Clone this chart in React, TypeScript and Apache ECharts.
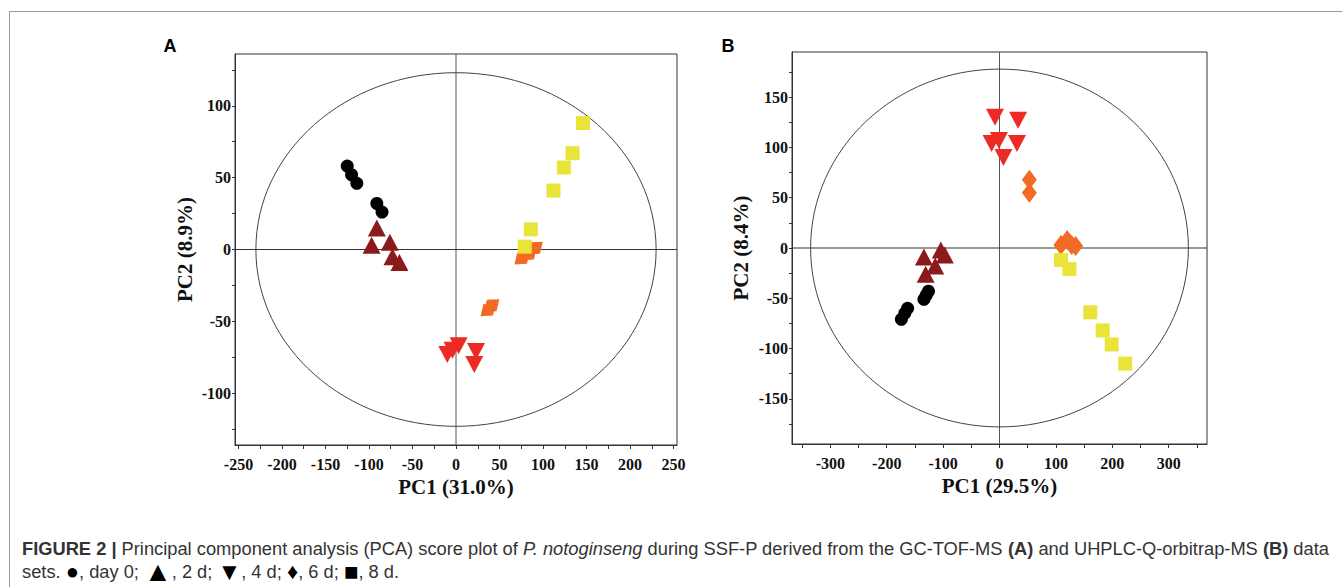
import React, { useEffect, useRef } from "react";
import * as echarts from "echarts";

// ---------- Panel A (GC-TOF-MS) ----------
const aDay0 = [[-125, 58], [-120, 52], [-114, 46], [-91, 32], [-85, 26]];
const aDay2 = [[-91, 15], [-97, 3], [-76, 5], [-73, -5], [-65, -9]];
const aDay4 = [[-10, -73], [-4, -70], [3, -67], [23, -71], [21, -80]];
const aDay6 = [[37, -42], [41, -39], [76, -6], [84, -3], [91, 1]];
const aDay8 = [[146, 88], [134, 67], [124, 57], [112, 41], [86, 14], [79, 2]];
const aXRange = [-254, 254];
const aYRange = [-136, 136];
const aEllipse = [230, 123];
const aXTicks = [-250, -225, -200, -175, -150, -125, -100, -75, -50, -25, 0, 25, 50, 75, 100, 125, 150, 175, 200, 225, 250];
const aXLabels = [-250, -200, -150, -100, -50, 0, 50, 100, 150, 200, 250];
const aYTicks = [-125, -100, -75, -50, -25, 0, 25, 50, 75, 100, 125];
const aYLabels = [-100, -50, 0, 50, 100];
const aXName = "PC1 (31.0%)";
const aYName = "PC2 (8.9%)";

// ---------- Panel B (UHPLC-Q-orbitrap-MS) ----------
const bDay0 = [[-126, -43], [-130, -47], [-134, -51], [-163, -60], [-168, -65], [-174, -71]];
const bDay2 = [[-134, -9], [-104, -2], [-97, -7], [-114, -18], [-131, -26]];
const bDay4 = [[-8, 130], [33, 127], [-14, 104], [-1, 107], [31, 104], [7, 90]];
const bDay6 = [[53, 68], [53, 55], [109, 3], [120, 8], [128, 3], [135, 2]];
const bDay8 = [[109, -12], [124, -21], [161, -64], [183, -82], [199, -96], [223, -115]];
const bXRange = [-368, 368];
const bYRange = [-195, 195];
const bEllipse = [335, 178];
const bXTicks = [-350, -300, -250, -200, -150, -100, -50, 0, 50, 100, 150, 200, 250, 300, 350];
const bXLabels = [-300, -200, -100, 0, 100, 200, 300];
const bYTicks = [-175, -150, -125, -100, -75, -50, -25, 0, 25, 50, 75, 100, 125, 150, 175];
const bYLabels = [-150, -100, -50, 0, 50, 100, 150];
const bXName = "PC1 (29.5%)";
const bYName = "PC2 (8.4%)";

const groupNames = ["day 0", "2 d", "4 d", "6 d", "8 d"];
const groupColors = ["#000000", "#8b1a1a", "#ee2a24", "#f26a24", "#e8e43a"];

const SERIF = '"Liberation Serif", "Times New Roman", serif';
const SANS = '"Liberation Sans", Arial, sans-serif';
const CAP = 18.3;

function axisX(gridIndex: number, range: number[], ticks: number[], labels: number[], name: string) {
  return {
    type: "value",
    gridIndex,
    min: range[0],
    max: range[1],
    name,
    nameLocation: "middle",
    nameGap: 30,
    nameTextStyle: { fontFamily: SERIF, fontWeight: "bold", fontSize: 21, color: "#111" },
    axisLine: { show: true, onZero: false, lineStyle: { color: "#333", width: 1 } },
    axisTick: { show: true, inside: false, length: 4, customValues: ticks, lineStyle: { color: "#333" } },
    axisLabel: { show: true, customValues: labels, margin: 11, fontFamily: SERIF, fontWeight: "bold", fontSize: 16, color: "#111" },
    splitLine: { show: false },
  };
}

function axisY(gridIndex: number, range: number[], ticks: number[], labels: number[], name: string, gap: number) {
  return {
    type: "value",
    gridIndex,
    min: range[0],
    max: range[1],
    name,
    nameLocation: "middle",
    nameGap: gap,
    nameTextStyle: { fontFamily: SERIF, fontWeight: "bold", fontSize: 21, color: "#111" },
    axisLine: { show: true, onZero: false, lineStyle: { color: "#333", width: 1 } },
    axisTick: { show: true, inside: false, length: 3, customValues: ticks, lineStyle: { color: "#333" } },
    axisLabel: { show: true, customValues: labels, margin: 4, fontFamily: SERIF, fontWeight: "bold", fontSize: 16, color: "#111" },
    splitLine: { show: false },
  };
}

function frameSeries(idx: number, ell: number[], xr: number[], yr: number[]) {
  return {
    type: "custom",
    xAxisIndex: idx,
    yAxisIndex: idx,
    silent: true,
    z: 1,
    data: [[0, 0, ell[0], ell[1]]],
    renderItem: (_params: any, api: any) => {
      const c = api.coord([api.value(0), api.value(1)]);
      const s = api.size([api.value(2), api.value(3)]);
      const top = api.coord([0, yr[1]]);
      const bottom = api.coord([0, yr[0]]);
      const left = api.coord([xr[0], 0]);
      const right = api.coord([xr[1], 0]);
      return {
        type: "group",
        children: [
          { type: "line", shape: { x1: top[0], y1: top[1], x2: bottom[0], y2: bottom[1] }, style: { stroke: "#555", lineWidth: 1 } },
          { type: "line", shape: { x1: left[0], y1: left[1], x2: right[0], y2: right[1] }, style: { stroke: "#333", lineWidth: 1 } },
          { type: "ellipse", shape: { cx: c[0], cy: c[1], rx: s[0], ry: s[1] }, style: { fill: "none", stroke: "#444", lineWidth: 1 } },
        ],
      };
    },
  };
}

function scatterSet(idx: number, groups: number[][][], diamondRotate: number) {
  const symbols = ["circle", "triangle", "triangle", "diamond", "rect"];
  const sizes: any[] = [13, [18, 17], [18, 17], [15, 20], 14];
  const rotates = [0, 0, 180, diamondRotate, 0];
  return groups.map((data, i) => ({
    type: "scatter",
    name: groupNames[i],
    xAxisIndex: idx,
    yAxisIndex: idx,
    z: 3,
    data,
    symbol: symbols[i],
    symbolSize: sizes[i],
    symbolRotate: rotates[i],
    itemStyle: { color: groupColors[i], opacity: 1 },
  }));
}

export default function App() {
  const ref = useRef<HTMLDivElement>(null);
  useEffect(() => {
    if (!ref.current) return;
    const chart = echarts.init(ref.current, undefined, { renderer: "svg" });
    const option: any = {
      animation: false,
      backgroundColor: "#ffffff",
      grid: [
        { left: 235, top: 54, width: 442, height: 391, show: true, borderColor: "#333", borderWidth: 1, backgroundColor: "transparent" },
        { left: 792, top: 52, width: 415, height: 392, show: true, borderColor: "#333", borderWidth: 1, backgroundColor: "transparent" },
      ],
      xAxis: [axisX(0, aXRange, aXTicks, aXLabels, aXName), axisX(1, bXRange, bXTicks, bXLabels, bXName)],
      yAxis: [axisY(0, aYRange, aYTicks, aYLabels, aYName, 40), axisY(1, bYRange, bYTicks, bYLabels, bYName, 41)],
      series: [
        frameSeries(0, aEllipse, aXRange, aYRange),
        frameSeries(1, bEllipse, bXRange, bYRange),
        ...scatterSet(0, [aDay0, aDay2, aDay4, aDay6, aDay8], -50),
        ...scatterSet(1, [bDay0, bDay2, bDay4, bDay6, bDay8], 0),
      ],
      graphic: [
        { type: "polyline", shape: { points: [[9.5, 587], [9.5, 11.5], [1342, 11.5]] }, style: { fill: "none", stroke: "#999", lineWidth: 1 }, silent: true },
        { type: "text", x: 170, y: 46, style: { text: "A", fontFamily: SANS, fontWeight: "bold", fontSize: 18, fill: "#000", align: "center", verticalAlign: "middle" } },
        { type: "text", x: 728, y: 46, style: { text: "B", fontFamily: SANS, fontWeight: "bold", fontSize: 18, fill: "#000", align: "center", verticalAlign: "middle" } },
        {
          type: "text",
          x: 22,
          y: 548,
          style: {
            text: "{b|FIGURE 2 | }{n|Principal component analysis (PCA) score plot of }{i|P. notoginseng}{n| during SSF-P derived from the GC-TOF-MS }{b|(A)}{n| and UHPLC-Q-orbitrap-MS }{b|(B)}{n| data}",
            fontFamily: SANS,
            fontSize: CAP,
            fill: "#333",
            verticalAlign: "middle",
            rich: {
              b: { fontFamily: SANS, fontSize: CAP, fontWeight: "bold", fill: "#333" },
              n: { fontFamily: SANS, fontSize: CAP, fill: "#333" },
              i: { fontFamily: SANS, fontSize: CAP, fontStyle: "italic", fill: "#333" },
            },
          },
        },
        {
          type: "text",
          x: 22,
          y: 571,
          style: {
            text: "{n|sets. }{c|●}{n|, day 0; }{u|▲}{n|, 2 d; }{d|▼}{n|, 4 d; }{m|♦}{n|, 6 d; }{s|■}{n|, 8 d.}",
            fontFamily: SANS,
            fontSize: CAP,
            fill: "#333",
            verticalAlign: "middle",
            rich: {
              n: { fontFamily: SANS, fontSize: CAP, fill: "#333" },
              c: { fontFamily: SANS, fontSize: 22, fill: "#000" },
              u: { fontFamily: SANS, fontSize: 28, fill: "#000" },
              d: { fontFamily: SANS, fontSize: 24, fill: "#000" },
              m: { fontFamily: SANS, fontSize: 22, fill: "#000" },
              s: { fontFamily: SANS, fontSize: 24, fill: "#000" },
            },
          },
        },
      ],
    };
    chart.setOption(option);
    return () => chart.dispose();
  }, []);
  return <div ref={ref} style={{ position: "fixed", left: 0, top: 0, width: 1342, height: 587, background: "#fff" }} />;
}
